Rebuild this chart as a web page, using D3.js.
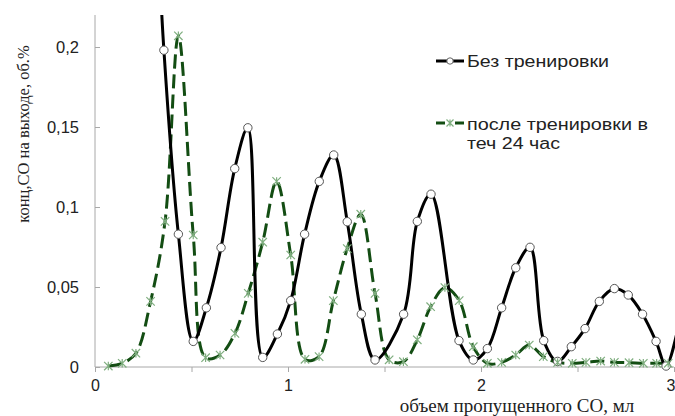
<!DOCTYPE html>
<html><head><meta charset="utf-8">
<script src="https://cdn.jsdelivr.net/npm/d3@7"></script>
<style>body{margin:0;background:#fff}svg{display:block}</style>
</head><body>
<script>
const xTicks = [0, 1, 2, 3];
const yTicks = [0, 0.05, 0.1, 0.15, 0.2];
const yTickLabels = ["0", "0,05", "0,1", "0,15", "0,2"];
const xTitle = "объем пропущенного СО, мл";
const yTitle = "конц,СО на выходе, об.%";
const seriesNames = ["Без тренировки", "после тренировки в", "теч 24 час"];

const blackX = [0.33, 0.357, 0.432, 0.509, 0.577, 0.653, 0.724, 0.792, 0.869, 0.945, 1.014, 1.086, 1.162, 1.237, 1.307, 1.380, 1.451, 1.599, 1.670, 1.741, 1.886, 1.960, 2.033, 2.107, 2.180, 2.254, 2.325, 2.397, 2.468, 2.539, 2.613, 2.691, 2.763, 2.837, 2.907, 2.959, 3.03];
const blackY = [0.26, 0.198, 0.083, 0.016, 0.037, 0.0746, 0.124, 0.1495, 0.006, 0.0206, 0.0415, 0.083, 0.116, 0.1325, 0.0908, 0.033, 0.0044, 0.033, 0.091, 0.108, 0.0165, 0.0044, 0.0115, 0.037, 0.062, 0.0748, 0.0165, 0.0035, 0.0127, 0.024, 0.041, 0.049, 0.045, 0.033, 0.016, 0.0006, 0.03];

const greenX = [0.069, 0.141, 0.212, 0.288, 0.363, 0.432, 0.509, 0.573, 0.648, 0.725, 0.794, 0.869, 0.941, 1.014, 1.088, 1.161, 1.235, 1.307, 1.377, 1.451, 1.524, 1.598, 1.670, 1.739, 1.813, 1.887, 1.960, 2.033, 2.107, 2.180, 2.250, 2.323, 2.397, 2.473, 2.544, 2.620, 2.691, 2.767, 2.841, 2.910, 2.970];
const greenY = [0.0006, 0.0023, 0.0086, 0.041, 0.091, 0.207, 0.0825, 0.0058, 0.0075, 0.021, 0.046, 0.078, 0.116, 0.070, 0.0048, 0.0065, 0.0415, 0.074, 0.0955, 0.046, 0.0045, 0.0033, 0.017, 0.0377, 0.0496, 0.0415, 0.0127, 0.0023, 0.0029, 0.0075, 0.0137, 0.0065, 0.0029, 0.0023, 0.0029, 0.0037, 0.0029, 0.0027, 0.0023, 0.0023, 0.0023];

const W = 675, H = 416;
const sans = "Liberation Sans, Arial, sans-serif";
const serif = "Liberation Serif, Times New Roman, serif";
const svg = d3.select("body").append("svg").attr("width", W).attr("height", H);
const x = d3.scaleLinear().domain([0, 3]).range([95, 674]);
const y = d3.scaleLinear().domain([0, 0.22]).range([367, 15]);
const axisColor = "#a8a8a8";

svg.append("defs").append("clipPath").attr("id", "clip")
  .append("rect").attr("x", 95).attr("y", 15).attr("width", 580).attr("height", 356);

// y axis (ticks point into the plot)
const yAxis = svg.append("g").attr("transform", "translate(95,0)")
  .call(d3.axisRight(y).tickValues(yTicks).tickSize(5).tickFormat((d, i) => yTickLabels[i]));
yAxis.select(".domain").attr("stroke", axisColor).attr("d", `M0,${y(0.22)}V${y(0)}`);
yAxis.selectAll(".tick line").attr("stroke", axisColor);
yAxis.selectAll(".tick text").attr("font-family", sans).attr("text-anchor", "end")
  .attr("font-size", 16.5).attr("fill", "#222").attr("x", -16).attr("dy", "0.34em");

// x axis
const xAxis = svg.append("g").attr("transform", `translate(0,${y(0)})`)
  .call(d3.axisBottom(x).tickValues(d3.range(0, 3.01, 0.5)).tickSize(5)
    .tickFormat(d => xTicks.includes(d) ? String(d) : ""));
xAxis.select(".domain").attr("stroke", axisColor).attr("d", `M${x(0)},0H${x(3)}`);
xAxis.selectAll(".tick line").attr("stroke", axisColor);
xAxis.selectAll(".tick text").attr("font-family", sans)
  .attr("font-size", 16).attr("fill", "#222").attr("y", 13)
  .filter(d => d === 3).attr("text-anchor", "end").attr("x", 1);

// titles
svg.append("text").attr("x", 517).attr("y", 412).attr("text-anchor", "middle")
  .attr("font-family", serif).attr("font-size", 19)
  .attr("fill", "#222").text(xTitle);
svg.append("text").attr("transform", "translate(29,134) rotate(-90)").attr("text-anchor", "middle")
  .attr("font-family", serif).attr("font-size", 16.5)
  .attr("fill", "#222").text(yTitle);

const plot = svg.append("g").attr("clip-path", "url(#clip)");
const line = d3.line().x(d => x(d[0])).y(d => y(d[1])).curve(d3.curveCatmullRom.alpha(0.5));

const black = blackX.map((v, i) => [v, blackY[i]]);
const green = greenX.map((v, i) => [v, greenY[i]]);

const greenLine = "#134d13", greenMark = "#7fae7f";

plot.append("path").datum(green).attr("d", line).attr("fill", "none")
  .attr("stroke", greenLine).attr("stroke-width", 3).attr("stroke-dasharray", "14,6");
plot.append("path").datum(black).attr("d", line).attr("fill", "none")
  .attr("stroke", "#000").attr("stroke-width", 3);

function asterisk(g, cx, cy, r, color) {
  const p = `M${cx - r},${cy - r}L${cx + r},${cy + r}M${cx - r},${cy + r}L${cx + r},${cy - r}M${cx},${cy - r}L${cx},${cy + r}`;
  g.append("path").attr("d", p).attr("stroke", color).attr("stroke-width", 1.2).attr("fill", "none");
}

plot.selectAll("circle.b").data(black.filter(d => d[0] <= 3 && d[1] <= 0.22)).enter().append("circle")
  .attr("cx", d => x(d[0])).attr("cy", d => y(d[1])).attr("r", 4.2)
  .attr("fill", "#fff").attr("stroke", "#555").attr("stroke-width", 1);

green.forEach(d => asterisk(plot, x(d[0]), y(d[1]), 4.2, greenMark));

// legend
const lg = svg.append("g");
lg.append("line").attr("x1", 436).attr("x2", 464).attr("y1", 61).attr("y2", 61)
  .attr("stroke", "#000").attr("stroke-width", 3);
lg.append("circle").attr("cx", 450).attr("cy", 61).attr("r", 3.2)
  .attr("fill", "#fff").attr("stroke", "#666").attr("stroke-width", 1);
lg.append("text").attr("x", 467).attr("y", 67).attr("font-family", sans)
  .attr("font-size", 16).attr("fill", "#222")
  .attr("textLength", 142).attr("lengthAdjust", "spacingAndGlyphs").text(seriesNames[0]);

lg.append("line").attr("x1", 436).attr("x2", 464).attr("y1", 123).attr("y2", 123)
  .attr("stroke", greenLine).attr("stroke-width", 3);
lg.append("rect").attr("x", 445).attr("y", 118).attr("width", 10).attr("height", 10).attr("fill", "#fff");
asterisk(lg, 450, 123, 3.5, greenMark);
lg.append("text").attr("x", 467).attr("y", 130).attr("font-family", sans)
  .attr("font-size", 16).attr("fill", "#222")
  .attr("textLength", 181).attr("lengthAdjust", "spacingAndGlyphs").text(seriesNames[1]);
lg.append("text").attr("x", 467).attr("y", 149).attr("font-family", sans)
  .attr("font-size", 16).attr("fill", "#222")
  .attr("textLength", 93).attr("lengthAdjust", "spacingAndGlyphs").text(seriesNames[2]);
</script>
</body></html>
